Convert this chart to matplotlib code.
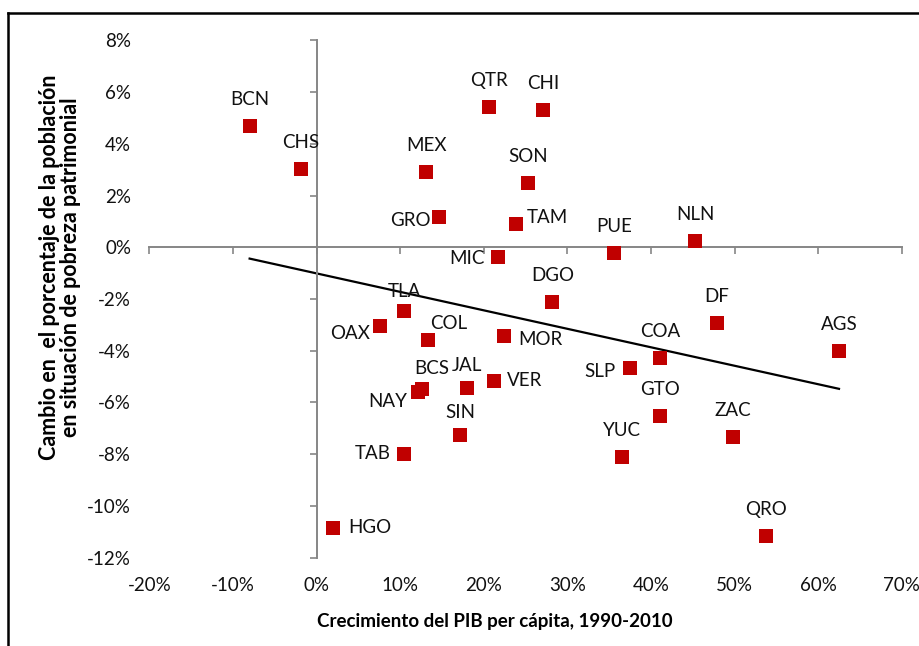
import numpy as np
import matplotlib
matplotlib.use("Agg")
import matplotlib.pyplot as plt
from matplotlib.lines import Line2D

# Mexican states: GDP per capita growth 1990-2010 (%) vs change in poverty (%)
states = ["BCN", "CHS", "MEX", "GRO", "TLA", "OAX", "COL", "BCS", "NAY", "TAB",
          "HGO", "SIN", "JAL", "VER", "MOR", "SLP", "COA", "GTO", "YUC", "ZAC",
          "QRO", "AGS", "DF", "DGO", "NLN", "PUE", "MIC", "TAM", "SON", "QTR", "CHI"]
gdp_growth = [-8.0, -1.9, 13.1, 14.7, 10.5, 7.6, 13.3, 12.6, 12.2, 10.5,
              2.0, 17.2, 18.0, 21.2, 22.4, 37.5, 41.1, 41.1, 36.5, 49.8,
              53.8, 62.5, 47.9, 28.2, 45.3, 35.6, 21.7, 23.9, 25.3, 20.6, 27.1]
poverty_change = [4.69, 3.03, 2.92, 1.18, -2.47, -3.04, -3.58, -5.49, -5.60, -7.99,
                  -10.86, -7.25, -5.45, -5.17, -3.43, -4.65, -4.27, -6.54, -8.11, -7.32,
                  -11.16, -4.01, -2.92, -2.10, 0.26, -0.21, -0.36, 0.89, 2.47, 5.43, 5.31]

x_ticks = [-20, -10, 0, 10, 20, 30, 40, 50, 60, 70]
y_ticks = [-12, -10, -8, -6, -4, -2, 0, 2, 4, 6, 8]

MARKER_COLOR = "#c00000"
AXIS_COLOR = "#868686"
FONT = "Lato"

# label placement (pixel offsets from the marker centre); default is above
LABEL_ABOVE = 28
label_layout = {
    "TLA": ("center", 0, 21), "BCS": ("center", 10, 22), "COL": ("center", 21, 18),
    "SIN": ("center", 0, 24), "JAL": ("center", 0, 24),
    "GRO": ("right", -9, -2), "OAX": ("right", -10, -6), "NAY": ("right", -11, -8),
    "TAB": ("right", -14, 2), "SLP": ("right", -14, -2), "MIC": ("right", -13, 0),
    "HGO": ("left", 15, 2), "VER": ("left", 13, 2), "MOR": ("left", 14, -2),
    "TAM": ("left", 10, 8),
}

plt.rcParams["axes.unicode_minus"] = False
plt.rcParams["font.family"] = [FONT, "DejaVu Sans"]

W, H = 920, 646
fig = plt.figure(figsize=(W / 100, H / 100), dpi=100)
pos = [149.3 / W, 1 - 557.7 / H, (901.7 - 149.3) / W, (557.7 - 40.3) / H]

# label axes: tick labels at the outer edges
ax_lbl = fig.add_axes(pos, frameon=False)
ax = fig.add_axes(pos, sharex=ax_lbl, sharey=ax_lbl, frameon=True)
ax.patch.set_alpha(0)

ax.set_xlim(-20, 70)
ax.set_ylim(-12, 8)
ax.set_xticks(x_ticks)
ax.set_yticks(y_ticks)
ax_lbl.set_xticklabels([f"{v}%" for v in x_ticks])
ax_lbl.set_yticklabels([f"{v}%" for v in y_ticks])
ax_lbl.tick_params(length=0, labelsize=13.5, colors="#111111")
ax_lbl.tick_params(axis="y", pad=13)
ax_lbl.tick_params(axis="x", pad=14)

for s in ("top", "right"):
    ax.spines[s].set_visible(False)
ax.spines["left"].set_position(("data", 0))
ax.spines["bottom"].set_position(("data", 0))
for s in ("left", "bottom"):
    ax.spines[s].set_color(AXIS_COLOR)
    ax.spines[s].set_linewidth(1.4)
ax.tick_params(direction="out", length=5, width=1.2, color=AXIS_COLOR,
               labelleft=False, labelbottom=False)

# trend line (least squares)
gx = np.array(gdp_growth)
py = np.array(poverty_change)
slope, intercept = np.polyfit(gx, py, 1)
tx = np.array([gx.min(), gx.max()])
ax.plot(tx, slope * tx + intercept, color="black", lw=1.6, zorder=2)

ax.plot(gdp_growth, poverty_change, linestyle="none", marker="s", markersize=10.6,
        color=MARKER_COLOR, markeredgewidth=0, zorder=3)

for name, gx_i, py_i in zip(states, gdp_growth, poverty_change):
    ha, dx, dy = label_layout.get(name, ("center", 0, LABEL_ABOVE))
    ax.annotate(name, (gx_i, py_i), xytext=(dx * 0.72, dy * 0.72),
                textcoords="offset points", ha=ha, va="center_baseline",
                fontsize=13.5, color="#111111", zorder=4)

fig.text(494.7 / W, 1 - 622 / H, "Crecimiento del PIB per cápita, 1990-2010",
         ha="center", va="center", fontsize=13.5, fontweight="bold")
fig.text(60 / W, 1 - 267 / H,
         "Cambio en  el porcentaje de la población\nen situación de pobreza patrimonial",
         ha="center", va="center", rotation=90, fontsize=15.5, fontweight="bold",
         linespacing=1.05)

# outer frame (only top and left edges visible in the crop)
fig.add_artist(Line2D([8 / W, 8 / W], [0, 1 - 13 / H], color="black", lw=1.8,
                      transform=fig.transFigure))
fig.add_artist(Line2D([8 / W, 1], [1 - 13 / H, 1 - 13 / H], color="black", lw=1.8,
                      transform=fig.transFigure))

fig.savefig("out.png", dpi=100, facecolor="white")
